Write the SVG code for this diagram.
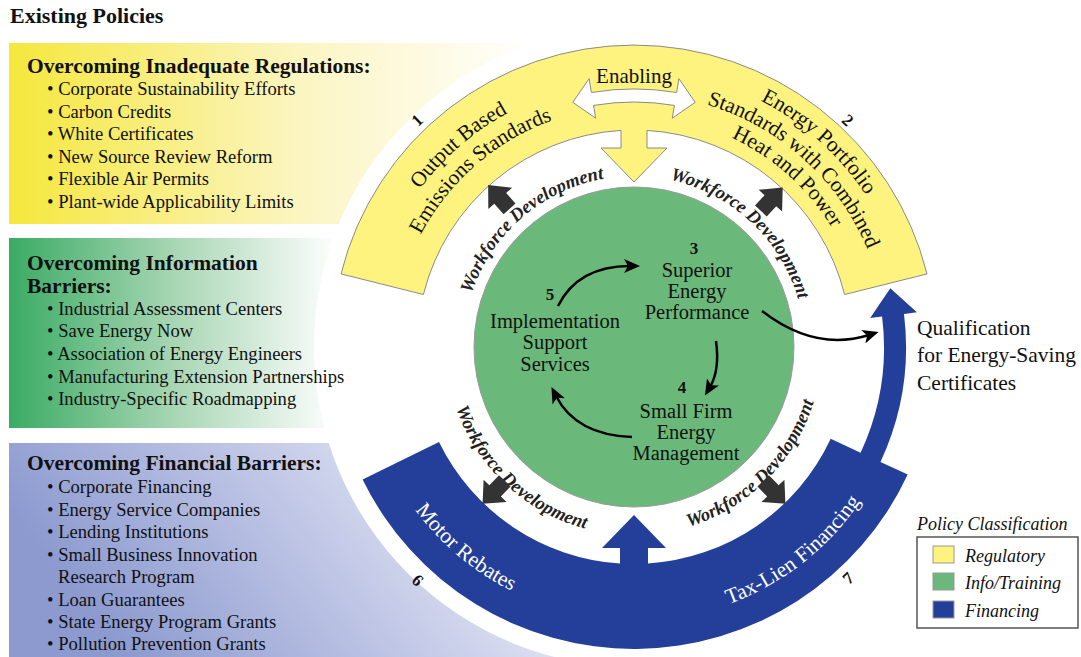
<svg xmlns="http://www.w3.org/2000/svg" width="1081" height="657" viewBox="0 0 1081 657">
<style>
.t{font-family:"Liberation Serif","Times New Roman",serif;fill:#111}
.h{font-weight:bold;font-size:21.5px}
.b{font-size:18.6px}
.ring{font-size:21.5px}
.wf{font-size:18.5px;font-weight:bold;font-style:italic;fill:#222}
.num{font-size:17px;font-weight:bold}
.g{font-size:20.5px}
.leg{font-size:18px;font-style:italic}
.dark{fill:#333}
.blk{fill:none;stroke:#000;stroke-width:2.5}
</style>
<defs>
<linearGradient id="gy" x1="0" y1="0" x2="1" y2="0"><stop offset="0" stop-color="#f5e73c"/><stop offset="0.55" stop-color="#fbf5c2"/><stop offset="1" stop-color="#ffffff"/></linearGradient>
<linearGradient id="gg" x1="0" y1="0" x2="1" y2="0"><stop offset="0" stop-color="#3aab64"/><stop offset="0.5" stop-color="#a8d6b4"/><stop offset="1" stop-color="#ffffff"/></linearGradient>
<linearGradient id="gb" x1="0" y1="0.3" x2="1" y2="0"><stop offset="0" stop-color="#8c9acf"/><stop offset="0.5" stop-color="#c5cbe8"/><stop offset="1" stop-color="#ffffff"/></linearGradient>
<clipPath id="cut"><path clip-rule="evenodd" d="M0,0H1081V657H0Z M314,347 A320,320 0 1,0 954,347 A320,320 0 1,0 314,347Z"/></clipPath>
<marker id="ah" markerUnits="userSpaceOnUse" markerWidth="16" markerHeight="14" refX="6" refY="7" orient="auto" viewBox="0 0 16 14"><path d="M0,0 L16,7 L0,14 L4,7 Z" fill="#000"/></marker>
<path id="darr" d="M0,-18 L16,0 L8,0 L8,14 L-8,14 L-8,0 L-16,0 Z"/>
<path id="pT1" d="M385.7,442.3 A266,266 0 0 1 763.0,114.4"/>
<path id="pT2" d="M409.0,433.4 A241,241 0 0 1 750.8,136.2"/>
<path id="pT3" d="M503.9,102.4 A277,277 0 0 1 890.8,450.8"/>
<path id="pT4" d="M515.2,123.6 A253,253 0 0 1 868.6,441.8"/>
<path id="pT5" d="M525.6,143.1 A231,231 0 0 1 848.2,433.5"/>
<path id="pW1" d="M474.4,408.3 A171,171 0 0 1 716.9,197.4"/>
<path id="pW2" d="M556.4,194.6 A171,171 0 0 1 791.4,413.8"/>
<path id="pW3" d="M460.9,273.5 A188,188 0 0 0 719.4,514.5"/>
<path id="pW4" d="M554.6,517.4 A188,188 0 0 0 804.4,267.6"/>
<path id="pB1" d="M377.5,253.6 A273,273 0 0 0 770.5,583.4"/>
<path id="pB2" d="M488.8,579.4 A274,274 0 0 0 894.6,262.3"/>
</defs>
<rect width="1081" height="657" fill="#fff"/>
<text class="t" x="10" y="23" font-size="22" font-weight="bold">Existing Policies</text>

<g id="panel-regulations">
<rect x="9" y="43" width="530" height="181" fill="url(#gy)" clip-path="url(#cut)"/>
<text class="t h" x="27" y="73">Overcoming Inadequate Regulations:</text>
<text class="t b" x="47" y="95">• Corporate Sustainability Efforts</text>
<text class="t b" x="47" y="118">• Carbon Credits</text>
<text class="t b" x="47" y="140">• White Certificates</text>
<text class="t b" x="47" y="163">• New Source Review Reform</text>
<text class="t b" x="47" y="185">• Flexible Air Permits</text>
<text class="t b" x="47" y="208">• Plant-wide Applicability Limits</text>
</g>
<g id="panel-information">
<rect x="9" y="238" width="330" height="190" fill="url(#gg)" clip-path="url(#cut)"/>
<text class="t h" x="27" y="270">Overcoming Information</text>
<text class="t h" x="27" y="293">Barriers:</text>
<text class="t b" x="47" y="315">• Industrial Assessment Centers</text>
<text class="t b" x="47" y="337">• Save Energy Now</text>
<text class="t b" x="47" y="360">• Association of Energy Engineers</text>
<text class="t b" x="47" y="383">• Manufacturing Extension Partnerships</text>
<text class="t b" x="47" y="405">• Industry-Specific Roadmapping</text>
</g>
<g id="panel-financial">
<rect x="9" y="443" width="560" height="214" fill="url(#gb)" clip-path="url(#cut)"/>
<text class="t h" x="27" y="470">Overcoming Financial Barriers:</text>
<text class="t b" x="47" y="493">• Corporate Financing</text>
<text class="t b" x="47" y="516">• Energy Service Companies</text>
<text class="t b" x="47" y="538">• Lending Institutions</text>
<text class="t b" x="47" y="561">• Small Business Innovation</text>
<text class="t b" x="58" y="583">Research Program</text>
<text class="t b" x="47" y="606">• Loan Guarantees</text>
<text class="t b" x="47" y="628">• State Energy Program Grants</text>
<text class="t b" x="47" y="650">• Pollution Prevention Grants</text>
</g>

<g id="regulatory-ring">
<path d="M341,273.9 A302,302 0 0 1 927,273.9 L844.6,294.5 A217,217 0 0 0 647,130.4 L647,148 L667,148 L634,182 L601,148 L621,148 L621,130.4 A217,217 0 0 0 423.4,294.5 Z" fill="#fff37f" stroke="#8a8a8a" stroke-width="1"/>
<text class="t ring"><textPath href="#pT1" startOffset="50%" text-anchor="middle">Output Based</textPath></text>
<text class="t ring"><textPath href="#pT2" startOffset="50%" text-anchor="middle">Emissions Standards</textPath></text>
<text class="t ring"><textPath href="#pT3" startOffset="50%" text-anchor="middle">Energy Portfolio</textPath></text>
<text class="t ring"><textPath href="#pT4" startOffset="50%" text-anchor="middle">Standards with Combined</textPath></text>
<text class="t ring"><textPath href="#pT5" startOffset="50%" text-anchor="middle">Heat and Power</textPath></text>
<text class="t num" text-anchor="middle" transform="translate(417,120) rotate(-44)" y="6">1</text>
<text class="t num" text-anchor="middle" transform="translate(848,120) rotate(43)" y="6">2</text>
</g>

<g id="enabling">
<path d="M572.8,102.3 L589.1,78.7 L591.4,92.5 A258,258 0 0 1 676.6,92.5 L678.9,78.7 L695.2,102.3 L672.3,118.2 L674.4,105.4 A245,245 0 0 0 593.6,105.4 L595.7,118.2 Z" fill="#fff" stroke="#8a8a8a" stroke-width="1"/>
<text class="t" x="634" y="83" font-size="21" text-anchor="middle">Enabling</text>
</g>

<g id="financing-ring">
<path d="M362.6,479.4 A302,302 0 0 0 907.7,474.6 L880.5,461.9 A272,272 0 0 0 904.0,313.9 L916.9,312.3 L890.3,288.3 L870.2,318.0 L882.1,316.5 A250,250 0 0 1 860.6,452.7 L830.7,438.7 A217,217 0 0 1 648,563.5 L648,548 L666,548 L634,515 L602,548 L620,548 L620,563.5 A217,217 0 0 1 439.0,442.1 Z" fill="#233f99"/>
<text class="t ring" style="fill:#fff"><textPath href="#pB1" startOffset="50%" text-anchor="middle">Motor Rebates</textPath></text>
<text class="t ring" style="fill:#fff"><textPath href="#pB2" startOffset="50%" text-anchor="middle">Tax-Lien Financing</textPath></text>
<text class="t num" text-anchor="middle" transform="translate(418,580) rotate(43)" y="6">6</text>
<text class="t num" text-anchor="middle" transform="translate(848,578) rotate(-43)" y="6">7</text>
</g>

<g id="info-training-circle">
<circle cx="634" cy="347" r="160" fill="#6bb87b" stroke="#9a9a9a" stroke-width="1"/>
<text class="t num" x="694" y="254" text-anchor="middle">3</text>
<text class="t g" x="697" y="277" text-anchor="middle">Superior</text>
<text class="t g" x="697" y="298" text-anchor="middle">Energy</text>
<text class="t g" x="697" y="319" text-anchor="middle">Performance</text>
<text class="t num" x="550" y="300" text-anchor="middle">5</text>
<text class="t g" x="555" y="328" text-anchor="middle">Implementation</text>
<text class="t g" x="555" y="349" text-anchor="middle">Support</text>
<text class="t g" x="555" y="371" text-anchor="middle">Services</text>
<text class="t num" x="682" y="393" text-anchor="middle">4</text>
<text class="t g" x="686" y="418" text-anchor="middle">Small Firm</text>
<text class="t g" x="686" y="439" text-anchor="middle">Energy</text>
<text class="t g" x="686" y="460" text-anchor="middle">Management</text>
</g>

<g id="workforce">
<text class="t wf"><textPath href="#pW1" startOffset="50%" text-anchor="middle">Workforce Development</textPath></text>
<text class="t wf"><textPath href="#pW2" startOffset="50%" text-anchor="middle">Workforce Development</textPath></text>
<text class="t wf"><textPath href="#pW3" startOffset="50%" text-anchor="middle">Workforce Development</textPath></text>
<text class="t wf"><textPath href="#pW4" startOffset="50%" text-anchor="middle">Workforce Development</textPath></text>
</g>

<g id="connectors">
<use href="#darr" class="dark" transform="translate(500.2,198.4) rotate(-42)"/>
<use href="#darr" class="dark" transform="translate(770.4,200.7) rotate(43)"/>
<use href="#darr" class="dark" transform="translate(495.1,490.9) rotate(-136)"/>
<use href="#darr" class="dark" transform="translate(772.9,490.9) rotate(136)"/>
<path class="blk" d="M558,306 Q578,266 630,266" marker-end="url(#ah)"/>
<path class="blk" d="M716,341 Q720,370 710,387" marker-end="url(#ah)"/>
<path class="blk" d="M632,437 Q576,435 556,396" marker-end="url(#ah)"/>
<path class="blk" d="M762,311 Q815,352 869,335" marker-end="url(#ah)"/>
</g>

<g id="qualification">
<text class="t" x="917" y="335" font-size="21.5">Qualification</text>
<text class="t" x="917" y="362" font-size="21.5">for Energy-Saving</text>
<text class="t" x="917" y="390" font-size="21.5">Certificates</text>
</g>

<g id="legend">
<text class="t leg" x="917" y="530" font-size="18.5">Policy Classification</text>
<rect x="917" y="537" width="161" height="91" fill="#fff" stroke="#555" stroke-width="1.5"/>
<rect x="933" y="546" width="21" height="17" fill="#fff37f" stroke="#999"/>
<text class="t leg" x="965" y="562">Regulatory</text>
<rect x="933" y="573" width="21" height="17" fill="#6bb87b" stroke="#999"/>
<text class="t leg" x="965" y="589">Info/Training</text>
<rect x="933" y="601" width="21" height="17" fill="#233f99" stroke="#999"/>
<text class="t leg" x="965" y="617">Financing</text>
</g>
</svg>
